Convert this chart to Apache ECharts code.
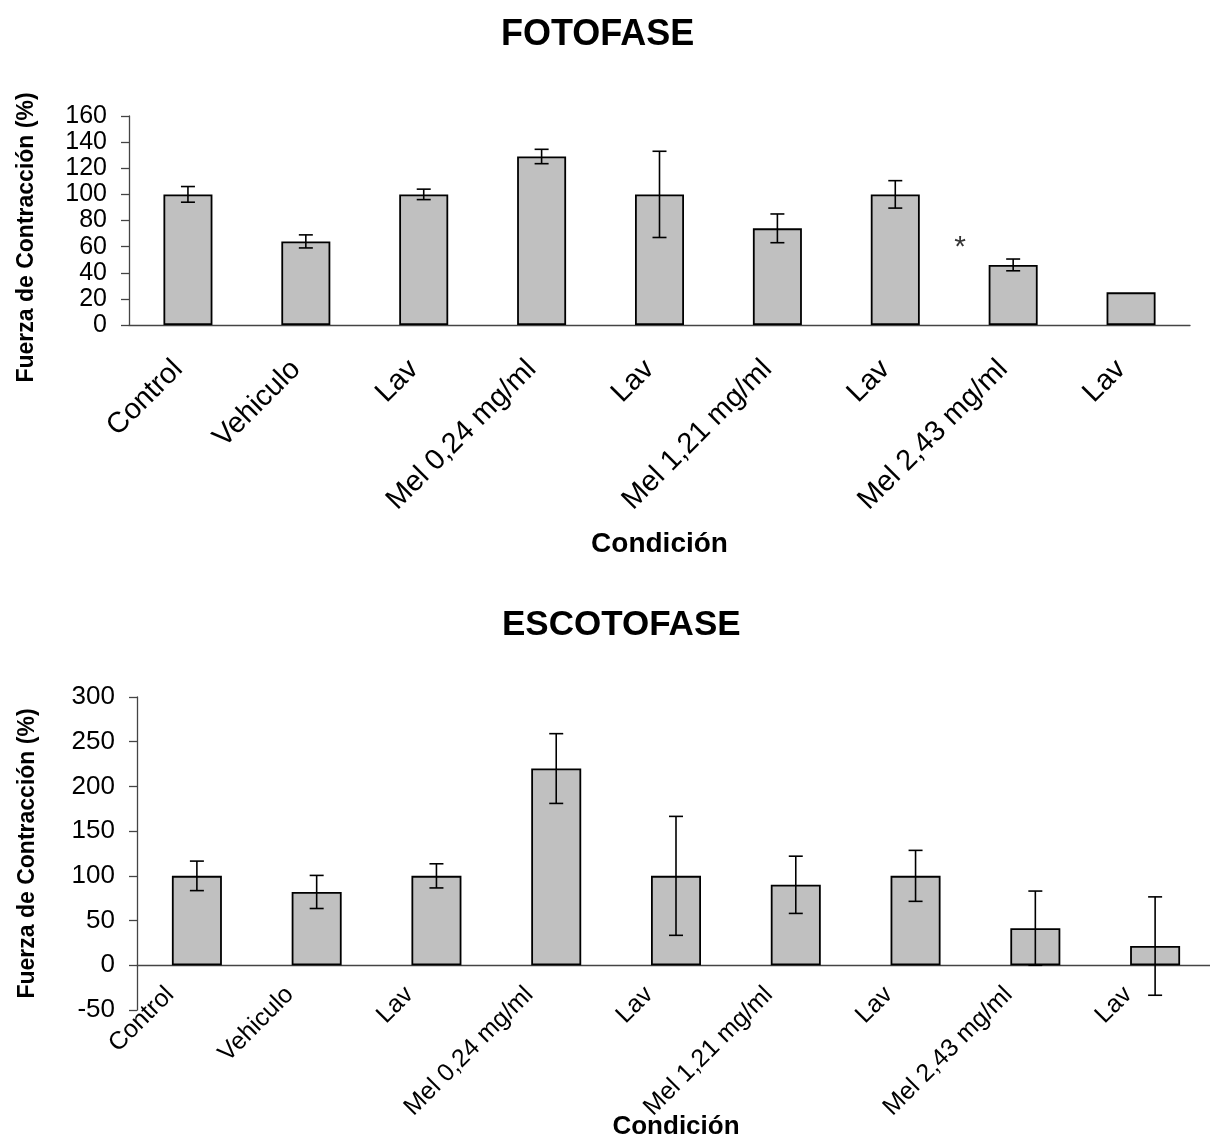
<!DOCTYPE html>
<html><head><meta charset="utf-8">
<script src="https://cdn.jsdelivr.net/npm/echarts@6/dist/echarts.min.js"></script>
<style>html,body{margin:0;padding:0;background:#fff}#c{width:1210px;height:1139px}</style>
</head><body><div id="c"></div>
<script>
const categories = ['Control','Vehiculo','Lav','Mel 0,24 mg/ml','Lav','Mel 1,21 mg/ml','Lav','Mel 2,43 mg/ml','Lav'];
const fotoValues = [100, 64, 100, 129, 100, 74, 100, 46, 25];
const fotoErrors = [6, 5, 4, 5.5, 33, 11, 10.5, 4.5, 0];
const escotoValues = [100, 82, 100, 220, 100, 90, 100, 41.5, 21.5];
const escotoErrors = [16.5, 18.5, 13.5, 39, 66.5, 32, 28.5, 41.5, 55];
const fotoAxis = {min: 0, max: 160, interval: 20};
const escotoAxis = {min: -50, max: 300, interval: 50};
const asteriskIndex = 7;
const asteriskValue = 59;

const FONT = '"Liberation Sans", Arial, sans-serif';
function errData(vals, errs){
  const out = [];
  vals.forEach((v,i)=>{ if(errs[i]>0) out.push([i, v-errs[i], v+errs[i]]); });
  return out;
}
function errRender(params, api){
  const i = api.value(0);
  const lo = api.coord([i, api.value(1)]);
  const hi = api.coord([i, api.value(2)]);
  const half = 7;
  const style = {stroke:'#000', lineWidth:1.6};
  return {type:'group', children:[
    {type:'line', shape:{x1:hi[0],y1:hi[1],x2:lo[0],y2:lo[1]}, style:style},
    {type:'line', shape:{x1:hi[0]-half,y1:hi[1],x2:hi[0]+half,y2:hi[1]}, style:style},
    {type:'line', shape:{x1:lo[0]-half,y1:lo[1],x2:lo[0]+half,y2:lo[1]}, style:style}
  ]};
}
const axisLineStyle = {color:'#444', width:1.3};
const chart = echarts.init(document.getElementById('c'), null, {renderer:'canvas'});
chart.setOption({
  animation:false,
  backgroundColor:'#fff',
  textStyle:{fontFamily:FONT},
  title:[
    {text:'FOTOFASE', left:496, top:12, textStyle:{fontFamily:FONT, fontSize:36, fontWeight:'bold', color:'#000'}},
    {text:'ESCOTOFASE', left:497, top:603, textStyle:{fontFamily:FONT, fontSize:35, fontWeight:'bold', color:'#000'}}
  ],
  grid:[
    {left:129, top:116, width:1061, height:209, containLabel:false, outerBoundsMode:'none'},
    {left:137, top:697, width:1078, height:313, containLabel:false, outerBoundsMode:'none'}
  ],
  xAxis:[
    {gridIndex:0, type:'category', data:categories,
     name:'Condición', nameLocation:'middle', nameGap:205, nameMoveOverlap:false,
     nameTextStyle:{fontFamily:FONT, fontSize:28, fontWeight:'bold', color:'#000'},
     axisLine:{lineStyle:axisLineStyle}, axisTick:{length:8, lineStyle:axisLineStyle},
     axisLabel:{rotate:45, margin:30, padding:[0,14,0,0], fontSize:29, color:'#000', fontFamily:FONT, interval:0, hideOverlap:false}},
    {gridIndex:1, type:'category', data:categories,
     name:'Condición', nameLocation:'middle', nameGap:104, nameMoveOverlap:false,
     nameTextStyle:{fontFamily:FONT, fontSize:26, fontWeight:'bold', color:'#000'},
     axisLine:{onZero:true, lineStyle:axisLineStyle}, axisTick:{length:8, lineStyle:axisLineStyle},
     axisLabel:{rotate:45, margin:-46, padding:[0,38,0,0], fontSize:25, color:'#000', fontFamily:FONT, interval:0, hideOverlap:false}}
  ],
  yAxis:[
    {gridIndex:0, type:'value', min:fotoAxis.min, max:fotoAxis.max, interval:fotoAxis.interval,
     name:'Fuerza de Contracción (%)', nameLocation:'middle', nameGap:91, nameMoveOverlap:false,
     nameTextStyle:{fontFamily:FONT, fontSize:23, fontWeight:'bold', color:'#000', padding:[0,34,0,0]},
     axisLine:{show:true, lineStyle:axisLineStyle}, axisTick:{show:true, length:8, lineStyle:axisLineStyle},
     splitLine:{show:false},
     axisLabel:{fontSize:25, color:'#000', fontFamily:FONT, margin:22, showMinLabel:true, showMaxLabel:true, hideOverlap:false}},
    {gridIndex:1, type:'value', min:escotoAxis.min, max:escotoAxis.max, interval:escotoAxis.interval,
     name:'Fuerza de Contracción (%)', nameLocation:'middle', nameGap:98, nameMoveOverlap:false,
     nameTextStyle:{fontFamily:FONT, fontSize:23, fontWeight:'bold', color:'#000'},
     axisLine:{show:true, lineStyle:axisLineStyle}, axisTick:{show:true, length:8, lineStyle:axisLineStyle},
     splitLine:{show:false},
     axisLabel:{fontSize:26, color:'#000', fontFamily:FONT, margin:22, showMinLabel:true, showMaxLabel:true, hideOverlap:false}}
  ],
  series:[
    {type:'bar', xAxisIndex:0, yAxisIndex:0, data:fotoValues, barWidth:49,
     itemStyle:{color:'#c0c0c0', borderColor:'#000', borderWidth:1.8}},
    {type:'custom', xAxisIndex:0, yAxisIndex:0, data:errData(fotoValues, fotoErrors), renderItem:errRender, z:5},
    {type:'scatter', xAxisIndex:0, yAxisIndex:0, data:[[asteriskIndex, asteriskValue]], symbolSize:0,
     label:{show:true, formatter:'*', fontSize:30, color:'#000', offset:[-53,0], fontFamily:FONT}},
    {type:'bar', xAxisIndex:1, yAxisIndex:1, data:escotoValues, barWidth:50,
     itemStyle:{color:'#c0c0c0', borderColor:'#000', borderWidth:1.8}},
    {type:'custom', xAxisIndex:1, yAxisIndex:1, data:errData(escotoValues, escotoErrors), renderItem:errRender, z:5}
  ]
});
</script></body></html>
